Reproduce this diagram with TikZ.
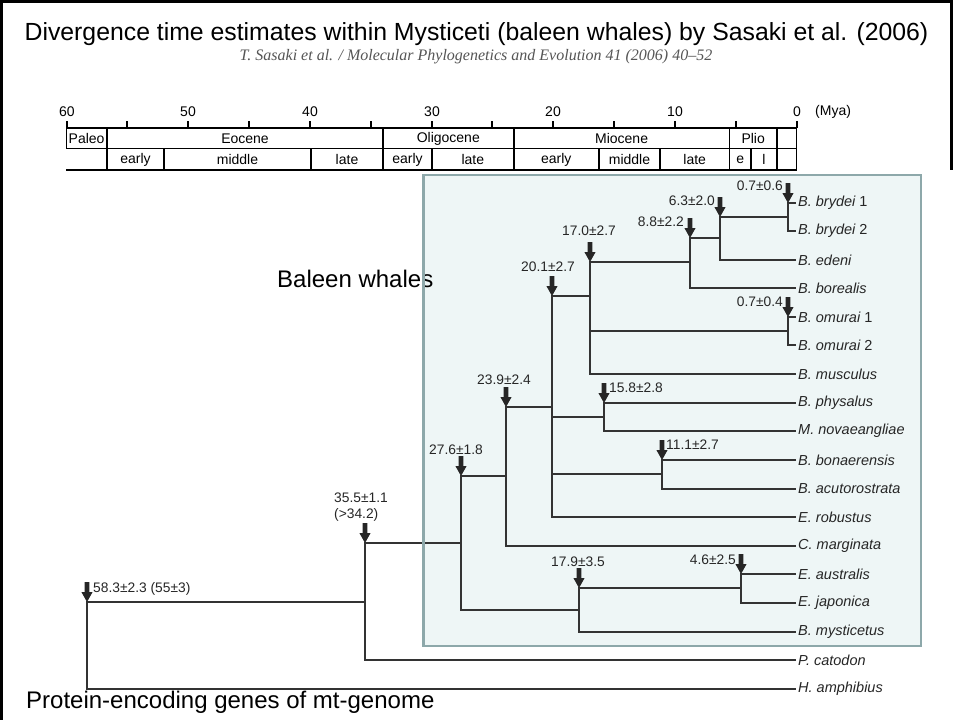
\documentclass[tikz,border=0pt]{standalone}
\usepackage{fontspec}
\setmainfont{Liberation Sans}
\newfontfamily\refserif{Liberation Serif}
\definecolor{treeline}{HTML}{333333}
\definecolor{boxfill}{HTML}{EEF6F6}
\definecolor{boxedge}{HTML}{8DA8AA}
\definecolor{numcol}{HTML}{262626}
\definecolor{subcol}{HTML}{555555}
\tikzset{
  slidetext/.style={font=\fontsize{24}{28}\selectfont, inner sep=0pt},
  subt/.style={font=\refserif\itshape\fontsize{16}{18}\selectfont, text=subcol, inner sep=0pt},
  leaf/.style={font=\fontsize{14.5}{17}\selectfont\itshape, text=numcol, anchor=west, inner xsep=3pt, inner ysep=0pt},
  num/.style={font=\fontsize{13.8}{16}\selectfont, text=numcol, inner sep=0pt},
  tab/.style={font=\fontsize{14}{16}\selectfont, inner sep=0pt},
  tree/.style={draw=treeline, line width=2pt},
  tabline/.style={draw=black, line width=1.3pt},
  darrow/.pic={\fill[numcol] (-2.3,-20) -- (2.3,-20) -- (2.3,-10) -- (5.6,-10) -- (0,0) -- (-5.6,-10) -- (-2.3,-10) -- cycle;}
}
\begin{document}
\begin{tikzpicture}[x=1pt,y=-1pt]
\useasboundingbox (0,0) rectangle (953,720);
\fill[white] (0,0) rectangle (953,720);
% frame
\draw[line width=3pt] (1.5,720) -- (1.5,1.5) -- (951.5,1.5) -- (951.5,170);
% titles
\node[slidetext, anchor=base, font=\fontsize{24.8}{28}\selectfont] (title) at (476.5,40) {Divergence time estimates within Mysticeti (baleen whales) by Sasaki et al. (2006)};
\node[subt, anchor=base] (subtitle) at (476,60) {T. Sasaki et al. / Molecular Phylogenetics and Evolution 41 (2006) 40–52};
% time axis
\foreach \t in {0,5,...,60} {\draw[line width=1.3pt] ({round(796.7-12.17*\t)},128) -- ++(0,-7);}
\foreach \t in {0,10,...,60} {\node[tab] (tk\t) at ({round(796.7-12.17*\t)},112) {\t};}
\node[tab, anchor=west] (mya) at (815,112) {(Mya)};
\draw[line width=2pt] (66,128) -- (797,128);
\draw[line width=1.6pt] (66,148.5) -- (797,148.5);
\draw[line width=2.4pt] (66,170) -- (797,170);
% row 1 dividers
\foreach \xx in {66.5,107,383,514,729.5,777,796.5} {\draw[tabline] (\xx,128) -- (\xx,148.5);}
% row 2 dividers
\foreach \xx in {107,164,311,383,432,514,599,660,729.5,751,777,796.5} {\draw[tabline] (\xx,148.5) -- (\xx,170);}
\node[tab, anchor=west] (paleo) at (68.5,138.5) {Paleo};
\node[tab] (eocene) at (245,138.5) {Eocene};
\node[tab] (oligo) at (448.3,138.5) {Oligocene};
\node[tab] (mio) at (621.6,138.5) {Miocene};
\node[tab] (plio) at (753.2,138.5) {Plio};
\node[tab] (e1) at (135.5,159.5) {early};
\node[tab] (m1) at (237.5,159.5) {middle};
\node[tab] (la1) at (347,159.5) {late};
\node[tab] (e2) at (407.5,159.5) {early};
\node[tab] (la2) at (472.8,159.5) {late};
\node[tab] (e3) at (556.3,159.5) {early};
\node[tab] (m3) at (629.5,159.5) {middle};
\node[tab] (la3) at (694.7,159.5) {late};
\node[tab] (pe) at (740.2,159.5) {e};
\node[tab] (pl) at (764,159.5) {l};
% baleen box fill
\fill[boxfill] (423.5,175) rectangle (921,646);
% leaves
\node[leaf] (l0) at (795,203) {B. brydei {\upshape 1}};
\node[leaf] (l1) at (795,231) {B. brydei {\upshape 2}};
\node[leaf] (l2) at (795,260) {B. edeni};
\node[leaf] (l3) at (795,288) {B. borealis};
\node[leaf] (l4) at (795,317) {B. omurai {\upshape 1}};
\node[leaf] (l5) at (795,345) {B. omurai {\upshape 2}};
\node[leaf] (l6) at (795,374) {B. musculus};
\node[leaf] (l7) at (795,403) {B. physalus};
\node[leaf] (l8) at (795,431) {M. novaeangliae};
\node[leaf] (l9) at (795,460) {B. bonaerensis};
\node[leaf] (l10) at (795,489) {B. acutorostrata};
\node[leaf] (l11) at (795,517) {E. robustus};
\node[leaf] (l12) at (795,546) {C. marginata};
\node[leaf] (l13) at (795,574) {E. australis};
\node[leaf] (l14) at (795,603) {E. japonica};
\node[leaf] (l15) at (795,632) {B. mysticetus};
\node[leaf] (l16) at (795,660) {P. catodon};
\node[leaf] (l17) at (795,689) {H. amphibius};
% internal nodes
\coordinate (nBry) at (788,217);
\coordinate (n63) at (720,238);
\coordinate (n88) at (690,262);
\coordinate (n170) at (590,296);
\coordinate (nOm) at (788,331);
\coordinate (n158) at (604,417);
\coordinate (n111) at (662,474);
\coordinate (n201) at (552,407);
\coordinate (n239) at (506,476);
\coordinate (n46) at (741,588);
\coordinate (n179) at (579,610);
\coordinate (n276) at (461,543);
\coordinate (n355) at (365,602);
\coordinate (nRoot) at (87,645);
% tree
\begin{scope}[tree, line cap=rect]
\draw (nBry|-l0.west) -- (nBry|-l1.west);
\draw (nBry|-l0.west) -- (l0.west);
\draw (nBry|-l1.west) -- (l1.west);
\draw (n63|-nBry) -- (n63|-l2.west);
\draw (n63|-nBry) -- (nBry);
\draw (n63|-l2.west) -- (l2.west);
\draw (n88|-n63) -- (n88|-l3.west);
\draw (n88|-n63) -- (n63);
\draw (n88|-l3.west) -- (l3.west);
\draw (nOm|-l4.west) -- (nOm|-l5.west);
\draw (nOm|-l4.west) -- (l4.west);
\draw (nOm|-l5.west) -- (l5.west);
\draw (n170|-n88) -- (n170|-l6.west);
\draw (n170|-n88) -- (n88);
\draw (n170|-nOm) -- (nOm);
\draw (n170|-l6.west) -- (l6.west);
\draw (n158|-l7.west) -- (n158|-l8.west);
\draw (n158|-l7.west) -- (l7.west);
\draw (n158|-l8.west) -- (l8.west);
\draw (n111|-l9.west) -- (n111|-l10.west);
\draw (n111|-l9.west) -- (l9.west);
\draw (n111|-l10.west) -- (l10.west);
\draw (n201|-n170) -- (n201|-l11.west);
\draw (n201|-n170) -- (n170);
\draw (n201|-n158) -- (n158);
\draw (n201|-n111) -- (n111);
\draw (n201|-l11.west) -- (l11.west);
\draw (n239|-n201) -- (n239|-l12.west);
\draw (n239|-n201) -- (n201);
\draw (n239|-l12.west) -- (l12.west);
\draw (n46|-l13.west) -- (n46|-l14.west);
\draw (n46|-l13.west) -- (l13.west);
\draw (n46|-l14.west) -- (l14.west);
\draw (n179|-n46) -- (n179|-l15.west);
\draw (n179|-n46) -- (n46);
\draw (n179|-l15.west) -- (l15.west);
\draw (n276|-n239) -- (n276|-n179);
\draw (n276|-n239) -- (n239);
\draw (n276|-n179) -- (n179);
\draw (n355|-n276) -- (n355|-l16.west);
\draw (n355|-n276) -- (n276);
\draw (n355|-l16.west) -- (l16.west);
\draw (nRoot|-n355) -- (nRoot|-l17.west);
\draw (nRoot|-n355) -- (n355);
\draw (nRoot|-l17.west) -- (l17.west);
\end{scope}
% arrows
\pic at (nBry|-l0.west) {darrow};
\pic at (n63|-nBry) {darrow};
\pic at (n88|-n63) {darrow};
\pic at (n170|-n88) {darrow};
\pic at (n201|-n170) {darrow};
\pic at (nOm|-l4.west) {darrow};
\pic at (n239|-n201) {darrow};
\pic at (n158|-l7.west) {darrow};
\pic at (n111|-l9.west) {darrow};
\pic at (n276|-n239) {darrow};
\pic at (n179|-n46) {darrow};
\pic at (n46|-l13.west) {darrow};
\pic at (n355|-n276) {darrow};
\pic at (nRoot|-n355) {darrow};
% divergence labels
\node[num, anchor=east] (d1) at (783,186) {0.7±0.6};
\node[num, anchor=east] (d2) at (715,201) {6.3±2.0};
\node[num, anchor=east] (d3) at (684,222) {8.8±2.2};
\node[num] (d4) at (589,231) {17.0±2.7};
\node[num] (d5) at (548,267) {20.1±2.7};
\node[num, anchor=east] (d6) at (783,302) {0.7±0.4};
\node[num] (d7) at (504,380) {23.9±2.4};
\node[num, anchor=west] (d8) at (609,388) {15.8±2.8};
\node[num, anchor=west] (d9) at (666,445) {11.1±2.7};
\node[num] (d10) at (456,450) {27.6±1.8};
\node[num] (d11) at (578,562) {17.9±3.5};
\node[num, anchor=east] (d12) at (736,560) {4.6±2.5};
\node[num, anchor=west] (d13) at (334,498) {35.5±1.1};
\node[num, anchor=west] (d14) at (334,515) {(>34.2)};
\node[num, anchor=west] (d15) at (93,589) {58.3±2.3 (55±3)};
% slide labels
\node[slidetext, anchor=base west] (baleen) at (277,287) {Baleen whales};
\node[slidetext, anchor=base west] (protein) at (26,708) {Protein-encoding genes of mt-genome};
% box border
\draw[boxedge, line width=2.5pt] (423.5,175) rectangle (921,646);
\end{tikzpicture}
\end{document}
